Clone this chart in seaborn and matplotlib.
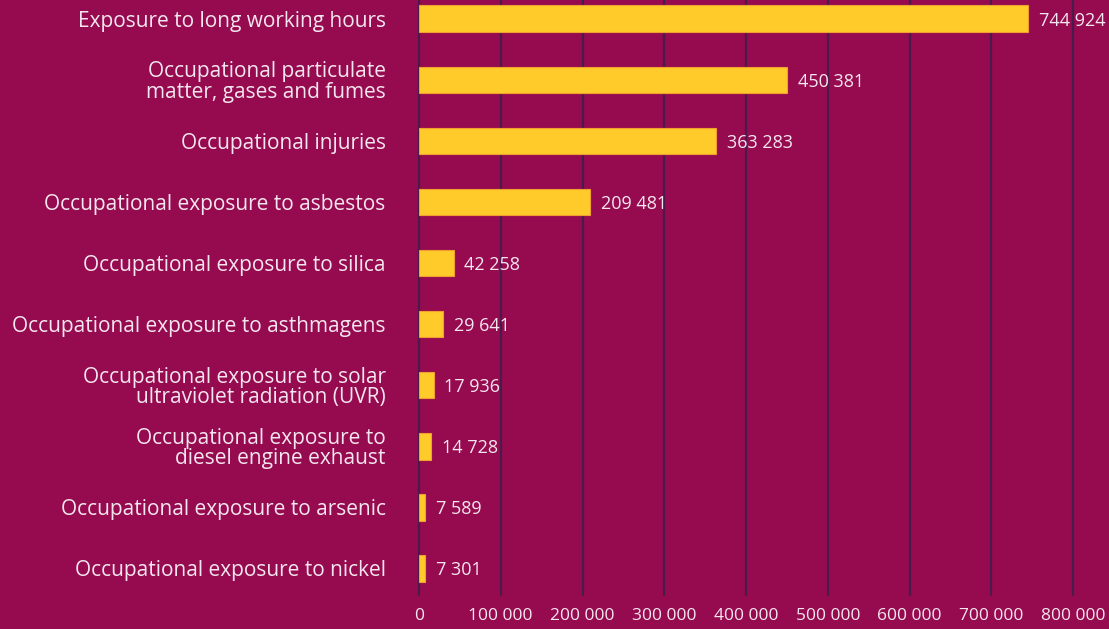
import pandas as pd
import matplotlib.pyplot as plt
import seaborn as sns

# Données
risk_factors = [
    "Exposure to long working hours",
    "Occupational particulate\nmatter, gases and fumes",
    "Occupational injuries",
    "Occupational exposure to asbestos",
    "Occupational exposure to silica",
    "Occupational exposure to asthmagens",
    "Occupational exposure to solar\nultraviolet radiation (UVR)",
    "Occupational exposure to\ndiesel engine exhaust",
    "Occupational exposure to arsenic",
    "Occupational exposure to nickel",
]
deaths = [744924, 450381, 363283, 209481, 42258, 29641, 17936, 14728, 7589, 7301]
x_ticks = [0, 100000, 200000, 300000, 400000, 500000, 600000, 700000, 800000]

df = pd.DataFrame({"factor": risk_factors, "deaths": deaths})

bg = "#960b4f"
bar_color = "#ffcb2b"
grid_color = "#4a1a4c"
text_color = "#f4e6ee"

sns.set_theme(style="white")
plt.rcParams["font.family"] = ["Open Sans", "DejaVu Sans"]

fig = plt.figure(figsize=(11.09, 6.29), dpi=100, facecolor=bg)
ax = fig.add_axes([419 / 1109, 1 - 595 / 629, (1073 - 419) / 1109, 595 / 629])
ax.set_facecolor(bg)

sns.barplot(data=df, x="deaths", y="factor", orient="h", color=bar_color,
            width=0.44, edgecolor="#f0a030", linewidth=0.8, saturation=1, ax=ax, zorder=3)

ax.set_xlim(0, 800000)
ax.set_ylim(9.44, -0.31)
ax.set_xticks(x_ticks)
ax.set_xticklabels([f"{t:,}".replace(",", " ") for t in x_ticks])
for t in x_ticks:
    ax.axvline(t, color=grid_color, lw=1.6, zorder=1, clip_on=False)

for s in ax.spines.values():
    s.set_visible(False)

ax.set_xlabel("")
ax.set_ylabel("")
ax.tick_params(axis="x", colors=text_color, labelsize=12.5, length=0, pad=9)
ax.tick_params(axis="y", colors=text_color, labelsize=15, length=0, pad=24)
for lbl in ax.get_yticklabels():
    lbl.set_linespacing(0.95)

# Étiquettes de valeurs
for i, v in enumerate(deaths):
    ax.text(v + 13000, i, f"{v:,}".replace(",", " "), va="center_baseline", ha="left",
            color=text_color, fontsize=13, zorder=4)

fig.savefig("out.png", dpi=100, facecolor=bg)
